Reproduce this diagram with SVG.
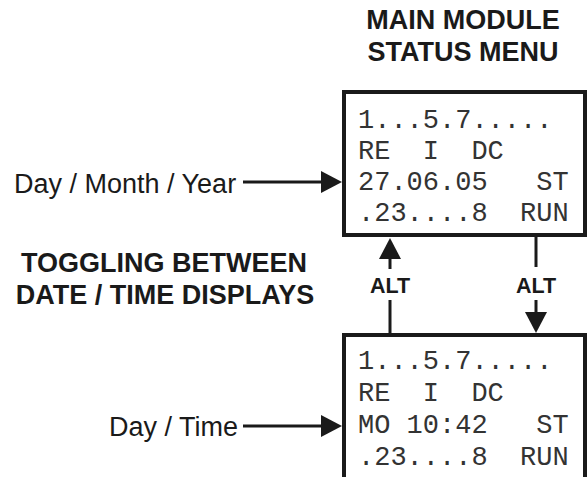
<svg xmlns="http://www.w3.org/2000/svg" width="587" height="477" viewBox="0 0 587 477">
<style>
.box{fill:#fff;stroke:#1a1a1a;stroke-width:4}
.mono{font-family:"Liberation Mono","Courier New",monospace;font-size:27px;fill:#333;white-space:pre}
.lbl{font-family:"Liberation Sans",Arial,sans-serif;font-size:27px;fill:#1a1a1a}
.hdr{font-family:"Liberation Sans",Arial,sans-serif;font-size:27px;font-weight:bold;fill:#1a1a1a;text-anchor:middle}
.alt{font-family:"Liberation Sans",Arial,sans-serif;font-size:21.5px;font-weight:bold;fill:#1a1a1a;text-anchor:middle}
.ln{stroke:#1a1a1a;stroke-width:3;fill:none}
</style>
<defs>
<marker id="ah" markerUnits="userSpaceOnUse" markerWidth="21" markerHeight="22" refX="15" refY="11" orient="auto" viewBox="0 0 21 22">
<path d="M0,0 L21,11 L0,22 z" fill="#1a1a1a"/>
</marker>
</defs>
<rect width="587" height="477" fill="#fff"/>
<g id="title">
<text class="hdr" x="463" y="29">MAIN MODULE</text>
<text class="hdr" x="463" y="61">STATUS MENU</text>
</g>
<g id="toggle-label">
<text class="hdr" x="164" y="272">TOGGLING BETWEEN</text>
<text class="hdr" x="165" y="304">DATE / TIME DISPLAYS</text>
</g>
<g id="date-display">
<rect class="box" x="344" y="92" width="241" height="143"/>
<text class="mono" x="358" y="128" xml:space="preserve">1...5.7.....</text>
<text class="mono" x="358" y="159" xml:space="preserve">RE  I  DC</text>
<text class="mono" x="358" y="190" xml:space="preserve">27.06.05   ST</text>
<text class="mono" x="358" y="221" xml:space="preserve">.23....8  RUN</text>
</g>
<g id="time-display">
<rect class="box" x="344" y="335" width="241" height="160"/>
<text class="mono" x="358" y="369" xml:space="preserve">1...5.7.....</text>
<text class="mono" x="358" y="401" xml:space="preserve">RE  I  DC</text>
<text class="mono" x="358" y="433" xml:space="preserve">MO 10:42   ST</text>
<text class="mono" x="358" y="465" xml:space="preserve">.23....8  RUN</text>
</g>
<g id="date-label">
<text class="lbl" x="14" y="193">Day / Month / Year</text>
</g>
<g id="time-label">
<text class="lbl" x="109" y="436">Day / Time</text>
</g>
<g id="connectors">
<line class="ln" x1="243" y1="182" x2="336" y2="182" marker-end="url(#ah)"/>
<line class="ln" x1="243" y1="426" x2="336" y2="426" marker-end="url(#ah)"/>
<line class="ln" x1="390" y1="335" x2="390" y2="300"/>
<line class="ln" x1="390" y1="269" x2="390" y2="244" marker-end="url(#ah)"/>
<line class="ln" x1="536" y1="237" x2="536" y2="267"/>
<line class="ln" x1="536" y1="300" x2="536" y2="327" marker-end="url(#ah)"/>
<text class="alt" x="390" y="293">ALT</text>
<text class="alt" x="536" y="293">ALT</text>
</g>
</svg>
